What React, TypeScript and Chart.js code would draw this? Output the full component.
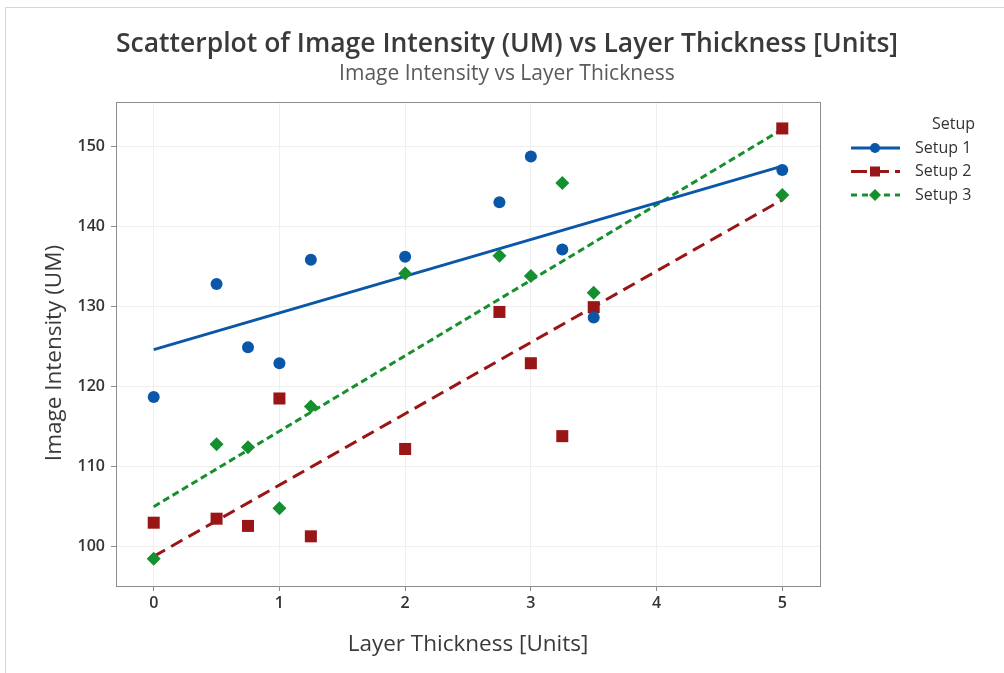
import React, { useEffect, useRef } from "react";
import { Chart, registerables } from "chart.js";
Chart.register(...registerables);

const xValues = [0, 0.5, 0.75, 1, 1.25, 2, 2.75, 3, 3.25, 3.5, 5];
const setup1 = [118.7, 132.8, 124.9, 122.9, 135.8, 136.2, 143.0, 148.7, 137.1, 128.6, 147.0];
const setup2 = [103.0, 103.5, 102.6, 118.5, 101.3, 112.2, 129.3, 122.9, 113.8, 129.9, 152.2];
const setup3 = [98.5, 112.8, 112.4, 104.8, 117.5, 134.1, 136.3, 133.8, 145.4, 131.7, 143.9];
const fitX = [0, 5];
const fit1 = [124.6, 147.5];
const fit2 = [98.8, 143.3];
const fit3 = [105.0, 152.1];
const xTicks = [0, 1, 2, 3, 4, 5];
const yTicks = [100, 110, 120, 130, 140, 150];
const seriesNames = ["Setup 1", "Setup 2", "Setup 3"];
const legendTitle = "Setup";
const mainTitle = "Scatterplot of Image Intensity (UM) vs Layer Thickness [Units]";
const subTitle = "Image Intensity vs Layer Thickness";
const xTitle = "Layer Thickness [Units]";
const yTitle = "Image Intensity (UM)";

const COLORS = ["#0a56a8", "#9a1515", "#14902e"];
const DASHES = [[], [13, 7], [7, 4]];
const STYLES = ["circle", "rect", "rectRot"];
const FONT = "'Open Sans', 'Noto Sans', sans-serif";

function drawMarker(ctx: CanvasRenderingContext2D, style: string, x: number, y: number, r: number, color: string) {
  ctx.save();
  ctx.fillStyle = color;
  ctx.setLineDash([]);
  ctx.beginPath();
  if (style === "circle") {
    ctx.arc(x, y, r, 0, Math.PI * 2);
  } else if (style === "rect") {
    ctx.rect(x - r, y - r, 2 * r, 2 * r);
  } else {
    ctx.moveTo(x, y - r);
    ctx.lineTo(x + r, y);
    ctx.lineTo(x, y + r);
    ctx.lineTo(x - r, y);
    ctx.closePath();
  }
  ctx.fill();
  ctx.restore();
}

const decorPlugin = {
  id: "decor",
  afterDraw(chart: any) {
    const ctx: CanvasRenderingContext2D = chart.ctx;
    const a = chart.chartArea;
    ctx.save();
    ctx.strokeStyle = "#8c8c8c";
    ctx.lineWidth = 1;
    ctx.setLineDash([]);
    ctx.strokeRect(Math.round(a.left) + 0.5, Math.round(a.top) + 0.5, Math.round(a.right - a.left), Math.round(a.bottom - a.top));

    ctx.textAlign = "center";
    ctx.textBaseline = "middle";
    ctx.fillStyle = "#3a3a3a";
    ctx.font = `600 26.5px ${FONT}`;
    ctx.fillText(mainTitle, 507, 44);
    ctx.fillStyle = "#5a5a5a";
    ctx.font = `21px ${FONT}`;
    ctx.fillText(subTitle, 507, 74);

    ctx.fillStyle = "#3a3a3a";
    ctx.font = `22.5px ${FONT}`;
    ctx.fillText(xTitle, (a.left + a.right) / 2, 645);
    ctx.save();
    ctx.translate(55, 353);
    ctx.rotate(-Math.PI / 2);
    ctx.fillText(yTitle, 0, 0);
    ctx.restore();

    ctx.font = `16px ${FONT}`;
    ctx.fillStyle = "#333";
    ctx.textAlign = "right";
    ctx.fillText(legendTitle, 975, 124);
    seriesNames.forEach((name, i) => {
      const y = 148 + 23.5 * i;
      ctx.save();
      ctx.strokeStyle = COLORS[i];
      ctx.lineWidth = 3;
      ctx.setLineDash(i === 0 ? [] : i === 1 ? [16, 6] : [6, 5]);
      ctx.beginPath();
      ctx.moveTo(851, y);
      ctx.lineTo(900, y);
      ctx.stroke();
      ctx.restore();
      drawMarker(ctx, STYLES[i], 875, y, i === 0 ? 5 : i === 1 ? 5 : 6, COLORS[i]);
      ctx.fillStyle = "#333";
      ctx.textAlign = "left";
      ctx.fillText(name, 915, y);
    });
    ctx.restore();
  },
};

export default function App() {
  const ref = useRef<HTMLCanvasElement>(null);
  useEffect(() => {
    const canvas = ref.current!;
    const series = [setup1, setup2, setup3];
    const fits = [fit1, fit2, fit3];
    const datasets: any[] = [];
    series.forEach((vals, i) => {
      datasets.push({
        type: "scatter",
        label: seriesNames[i],
        data: xValues.map((x, k) => ({ x, y: vals[k] })),
        pointStyle: STYLES[i],
        pointRadius: i === 0 ? 6 : i === 1 ? 8.5 : 7,
        pointBackgroundColor: COLORS[i],
        pointBorderColor: COLORS[i],
        pointBorderWidth: 0,
        showLine: false,
        order: 1,
      });
    });
    fits.forEach((vals, i) => {
      datasets.push({
        type: "line",
        label: seriesNames[i] + " fit",
        data: fitX.map((x, k) => ({ x, y: vals[k] })),
        borderColor: COLORS[i],
        borderWidth: 3,
        borderDash: DASHES[i],
        pointRadius: 0,
        fill: false,
        order: 2,
      });
    });
    const tickFont = { size: 16, weight: "600", family: FONT };
    const chart = new Chart(canvas, {
      type: "scatter",
      data: { datasets },
      plugins: [decorPlugin],
      options: {
        animation: false,
        responsive: false,
        layout: { padding: { left: 0, top: 102, right: 184, bottom: 0 } },
        plugins: { legend: { display: false }, title: { display: false }, tooltip: { enabled: false } },
        scales: {
          x: {
            type: "linear",
            min: -0.3,
            max: 5.3,
            afterBuildTicks: (s: any) => { s.ticks = xTicks.map((v) => ({ value: v })); },
            afterFit: (s: any) => { s.height = 87; },
            grid: { color: "#efefef", tickColor: "#8c8c8c", tickLength: 5, lineWidth: 1 },
            border: { display: false },
            ticks: { color: "#333", font: tickFont, padding: 3, maxRotation: 0, autoSkip: false },
          },
          y: {
            type: "linear",
            min: 95.1,
            max: 155.5,
            afterBuildTicks: (s: any) => { s.ticks = yTicks.map((v) => ({ value: v })); },
            afterFit: (s: any) => { s.width = 116; },
            grid: { color: "#efefef", tickColor: "#8c8c8c", tickLength: 5, lineWidth: 1 },
            border: { display: false },
            ticks: { color: "#333", font: tickFont, padding: 6, autoSkip: false },
          },
        },
      } as any,
    });
    return () => chart.destroy();
  }, []);
  return (
    <div style={{ position: "fixed", left: 0, top: 0, width: 1004, height: 673, background: "#fff", overflow: "hidden" }}>
      <div style={{ position: "absolute", left: 5, top: 7, width: 1020, height: 700, border: "1px solid #d6d6d6", boxSizing: "border-box" }} />
      <canvas ref={ref} width={1004} height={673} style={{ position: "absolute", left: 0, top: 0, width: 1004, height: 673 }} />
    </div>
  );
}
